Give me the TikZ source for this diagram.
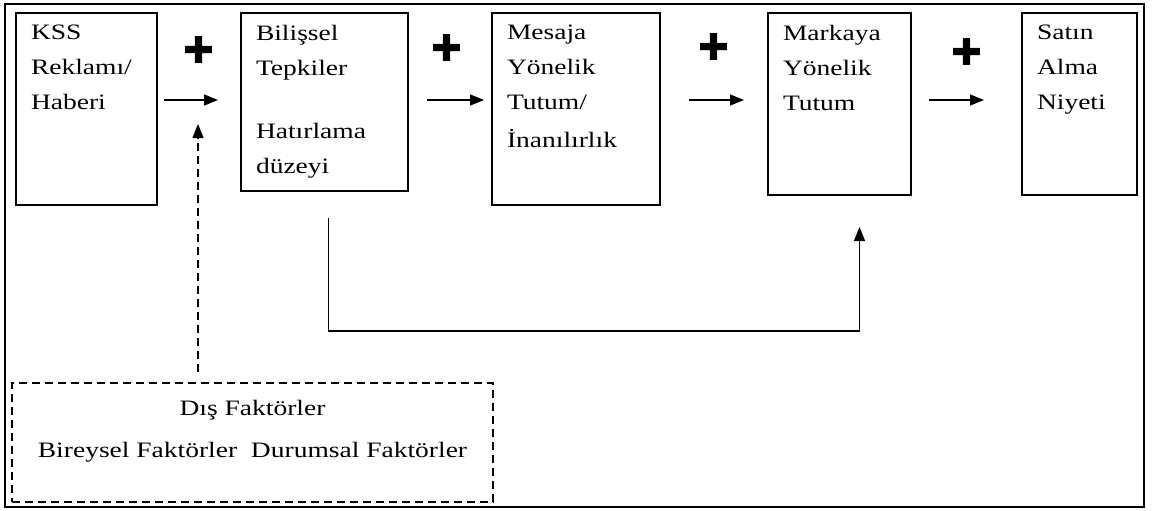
\documentclass[tikz,border=0pt]{standalone}
\usepackage{fontspec}
\setmainfont[FakeStretch=1.25]{Liberation Serif}
\newfontfamily\symfont{DejaVu Sans}
\usetikzlibrary{positioning, arrows.meta}

\newcommand{\boxtext}[3]{\parbox[t][#2][t]{#1}{#3}}

\begin{document}
\begin{tikzpicture}[x=1pt,y=-1pt,>={Triangle[length=14pt,width=11pt]},
  font=\fontsize{22}{35}\selectfont,
  stage/.style={draw,line width=1.5pt,outer sep=0pt,anchor=north west,inner xsep=15pt,inner ysep=12pt},
  ext/.style={draw,line width=1.4pt,outer sep=0pt,dash pattern=on 8pt off 5pt,anchor=north west,
    inner xsep=15pt,inner ysep=17pt,font=\fontsize{22}{42}\selectfont},
  conn/.style={->,line width=1.4pt},
  sign/.style={font=\symfont\fontsize{37}{37}\selectfont,inner sep=0pt}]
  \useasboundingbox (0,0) rectangle (1156,511);
  \draw[line width=1.8pt] (5,4) rectangle (1144,507);
  % model stages
  \node[stage] (kss) at (16,13) {\boxtext{111pt}{168pt}{KSS\\ Reklamı/\\ Haberi}};
  \node[stage,right=84pt of kss.north east,anchor=north west] (bilis)
    {\boxtext{137pt}{154pt}{Bilişsel\\ Tepkiler\\[28pt] Hatırlama\\ düzeyi}};
  \node[stage,right=84pt of bilis.north east,anchor=north west] (mesaj)
    {\boxtext{138pt}{168pt}{Mesaja\\ Yönelik\\ Tutum/\\[3pt] İnanılırlık}};
  \node[stage,right=108pt of mesaj.north east,anchor=north west] (marka)
    {\boxtext{113pt}{158pt}{Markaya\\ Yönelik\\ Tutum}};
  \node[stage,right=111pt of marka.north east,anchor=north west] (satin)
    {\boxtext{85pt}{158pt}{Satın\\ Alma\\ Niyeti}};
  \node[ext] (dis) at (12,383)
    {\boxtext{451pt}{85pt}{\centering Dış Faktörler\\ Bireysel Faktörler\ \ Durumsal Faktörler}};
  % plus signs
  \node[sign] (pl1) at (199,50) {✚};
  \node[sign] (pl2) at (447,48) {✚};
  \node[sign] (pl3) at (714,47) {✚};
  \node[sign] (pl4) at (967,52) {✚};
  % connectors
  \draw[conn,shorten <=7pt,shorten >=23pt] ([yshift=-87pt]kss.north east) -- ([yshift=-87pt]bilis.north west);
  \draw[conn,shorten <=19pt,shorten >=8pt] ([yshift=-87pt]bilis.north east) -- ([yshift=-87pt]mesaj.north west);
  \draw[conn,shorten <=29pt,shorten >=24pt] ([yshift=-87pt]mesaj.north east) -- ([yshift=-87pt]marka.north west);
  \draw[conn,shorten <=18pt,shorten >=38pt] ([yshift=-87pt]marka.north east) -- ([yshift=-87pt]satin.north west);
  \draw[conn] ([xshift=4pt,yshift=-27pt]bilis.south) -- ++(0,113) -| ([xshift=20pt,yshift=-32pt]marka.south);
  \coordinate (hit) at (198,124);
  \draw[conn,dash pattern=on 8pt off 5pt] ([xshift=-54.5pt,yshift=11pt]dis.north) -- (hit);
\end{tikzpicture}
\end{document}
